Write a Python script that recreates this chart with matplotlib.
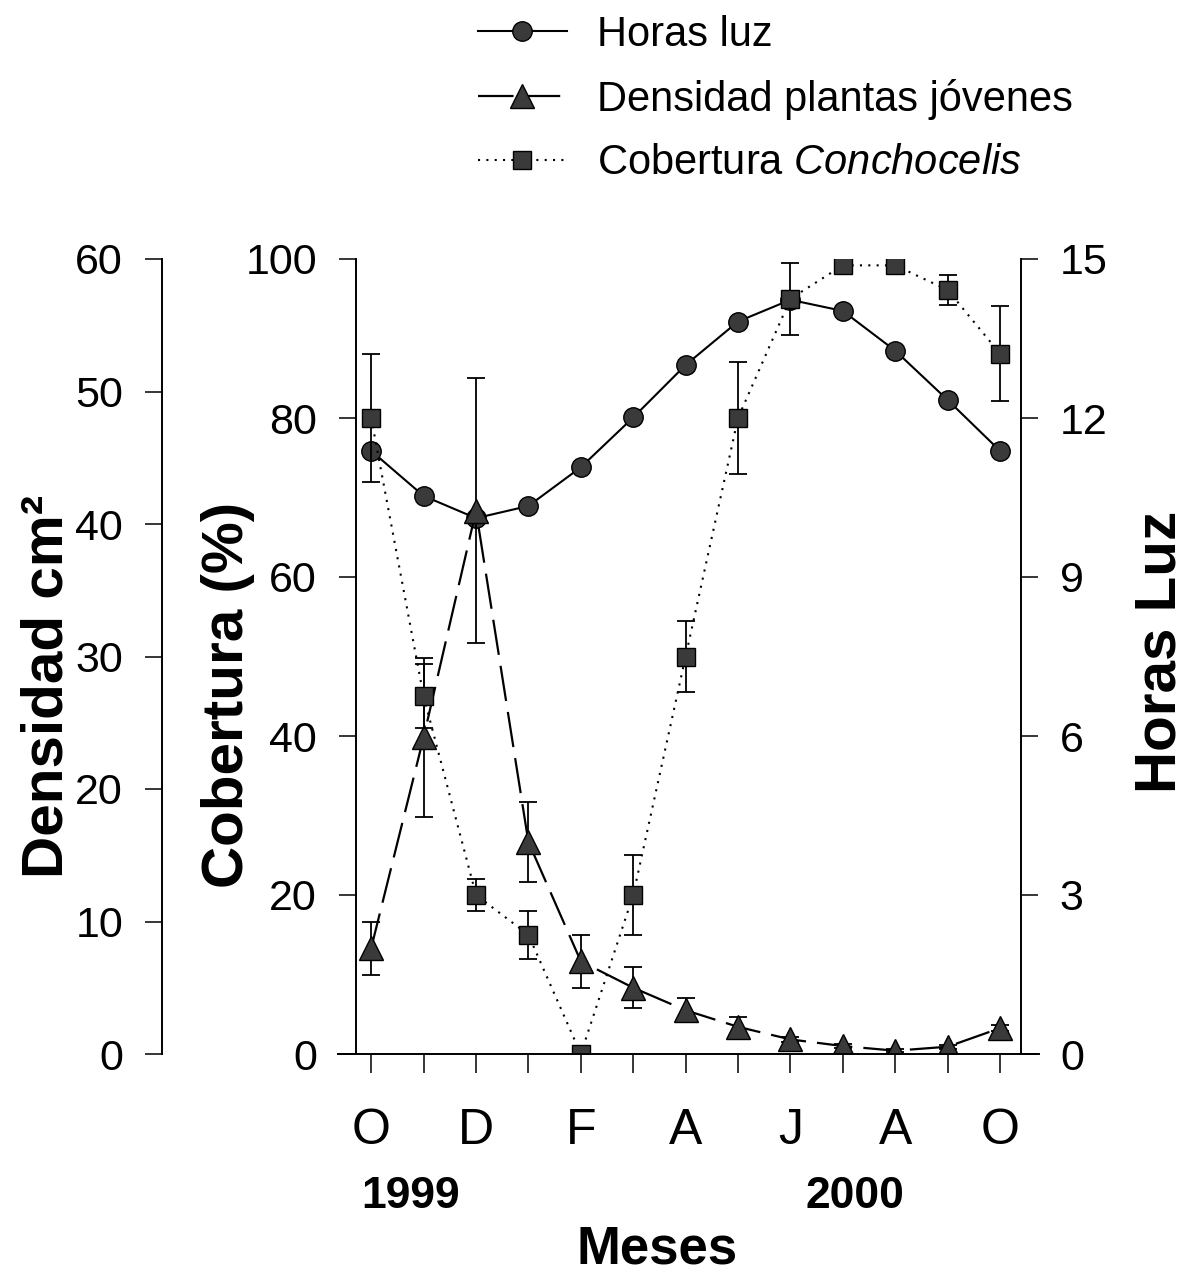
import numpy as np
import matplotlib
matplotlib.use("Agg")
import matplotlib.pyplot as plt
from matplotlib.lines import Line2D

# ── Data ──────────────────────────────────────────────────────────────────────
MONTHS = ["O", "N", "D", "E", "F", "M", "A", "M", "J", "J", "A", "S", "O"]
MONTH_LABELS = ["O", "", "D", "", "F", "", "A", "", "J", "", "A", "", "O"]

horas_luz = [11.38, 10.53, 10.11, 10.34, 11.07, 12.01, 13.0, 13.82, 14.23, 14.02, 13.27, 12.34, 11.38]

densidad     = [8.0, 23.9, 41.0, 16.0, 7.0, 5.0, 3.3, 2.05, 1.1, 0.6, 0.25, 0.55, 1.95]
densidad_err = [2.0, 6.0, 10.0, 3.0, 2.0, 1.55, 0.9, 0.78, 0.2, 0.15, 0.1, 0.15, 0.25]

cobertura     = [80, 45, 20, 15, 0, 20, 50, 80, 95, 99.2, 99.2, 96.1, 88.1]
cobertura_err = [8, 4.0, 2, 3, 0, 5, 4.5, 7, 4.5, 0, 0, 1.85, 6]

# ── Styling ───────────────────────────────────────────────────────────────────
plt.rcParams.update({
    "font.family": ["Liberation Sans", "DejaVu Sans"],
    "mathtext.fontset": "custom",
    "mathtext.rm": "Liberation Sans",
    "mathtext.it": "Liberation Sans:italic",
    "axes.linewidth": 1.4,
})
FILL = "#3a3a3a"
W, H = 1187, 1277

fig = plt.figure(figsize=(W / 100, H / 100), dpi=100)
ax = fig.add_axes([356 / W, 1 - 1054 / H, (1021 - 356) / W, (1054 - 259) / H])
ax_d = ax.twinx()
ax_h = ax.twinx()

# stacking: circles bottom, triangles middle, squares top
ax_h.set_zorder(1)
ax_d.set_zorder(2)
ax.set_zorder(3)
for a in (ax, ax_d, ax_h):
    a.patch.set_visible(False)

x = np.arange(len(MONTHS))

# Horas luz
ax_h.plot(x, horas_luz, color="black", lw=1.5, marker="o", ms=14,
          mfc=FILL, mec="black", mew=1.0)

# Densidad plantas jóvenes
d = np.array(densidad)
de = np.array(densidad_err)
ax_d.errorbar(x, d, yerr=de, fmt="none", ecolor="black", elinewidth=1.3,
              capsize=6.5, capthick=1.3, zorder=2)
ax_d.plot(x, d, color="black", lw=1.6, dashes=(16, 5), marker="^", ms=17,
          mfc=FILL, mec="black", mew=1.0, zorder=3)

# Cobertura Conchocelis
c = np.array(cobertura, dtype=float)
ce = np.array(cobertura_err, dtype=float)
m = ce > 0
ax.errorbar(x[m], c[m], yerr=ce[m], fmt="none", ecolor="black", elinewidth=1.3,
            capsize=6.5, capthick=1.3, zorder=2)
ax.plot(x, c, color="black", lw=1.5, linestyle=(0, (1, 3)), marker="s", ms=13.5,
        mfc=FILL, mec="black", mew=1.0, zorder=3)

# ── Axes ──────────────────────────────────────────────────────────────────────
ax.set_xlim(-0.29, 12.4)
ax.set_ylim(0, 100)
ax_d.set_ylim(0, 60)
ax_h.set_ylim(0, 15)

ax.set_xticks(x)
ax.set_xticklabels(MONTH_LABELS)
ax.set_yticks([0, 20, 40, 60, 80, 100])
ax_d.set_yticks([0, 10, 20, 30, 40, 50, 60])
ax_h.set_yticks([0, 3, 6, 9, 12, 15])

for a in (ax, ax_d, ax_h):
    a.spines["top"].set_visible(False)
ax.spines["right"].set_visible(False)
ax.spines["bottom"].set_visible(False)
ax_d.spines["right"].set_visible(False)
ax_d.spines["bottom"].set_visible(False)
ax_h.spines["left"].set_visible(False)
ax_h.spines["bottom"].set_visible(False)

ax_d.spines["left"].set_visible(True)
ax_d.spines["left"].set_position(("outward", 194 * 0.72))
ax_d.yaxis.set_ticks_position("left")
ax_d.yaxis.set_label_position("left")

ytick = dict(direction="out", length=12, width=1.1, labelsize=31, pad=16)
ax.tick_params(axis="y", **ytick)
ax_d.tick_params(axis="y", **ytick)
ax_h.tick_params(axis="y", **ytick)
ax.tick_params(axis="x", direction="out", length=14, width=1.1, labelsize=36, pad=25)

# x axis line extending past both y spines
ax.plot([-0.027, 1.027], [0, 0], transform=ax.transAxes, color="black",
        lw=1.4, clip_on=False, zorder=5)

# ── Labels ────────────────────────────────────────────────────────────────────
fig.text(48 / W, 1 - 686 / H, "Densidad cm²", rotation=90, fontsize=42,
         fontweight="bold", ha="center", va="center")
fig.text(228 / W, 1 - 695 / H, "Cobertura (%)", rotation=90, fontsize=42,
         fontweight="bold", ha="center", va="center")
fig.text(1161 / W, 1 - 652 / H, "Horas Luz", rotation=90, fontsize=42,
         fontweight="bold", ha="center", va="center")
fig.text(411 / W, 1 - 1196 / H, "1999", fontsize=32, fontweight="bold",
         ha="center", va="center")
fig.text(855 / W, 1 - 1196 / H, "2000", fontsize=32, fontweight="bold",
         ha="center", va="center")
fig.text(657 / W, 1 - 1250 / H, "Meses", fontsize=38, fontweight="bold",
         ha="center", va="center")

# ── Legend ────────────────────────────────────────────────────────────────────
handles = [
    Line2D([], [], color="black", lw=1.5, marker="o", ms=14, mfc=FILL, mec="black"),
    Line2D([], [], color="black", lw=1.6, dashes=(16, 5), marker="^", ms=17,
           mfc=FILL, mec="black"),
    Line2D([], [], color="black", lw=1.5, linestyle=(0, (1, 3)), marker="s", ms=13.5,
           mfc=FILL, mec="black"),
]
labels = ["Horas luz", "Densidad plantas jóvenes", r"Cobertura $\mathit{Conchocelis}$"]
fig.legend(handles, labels, loc="upper left", bbox_to_anchor=(478 / W, 1 - 15 / H),
           frameon=False, fontsize=30, handlelength=2.13, handletextpad=0.72,
           labelspacing=0.57, borderpad=0, borderaxespad=0)

fig.savefig("out.png", dpi=100)
